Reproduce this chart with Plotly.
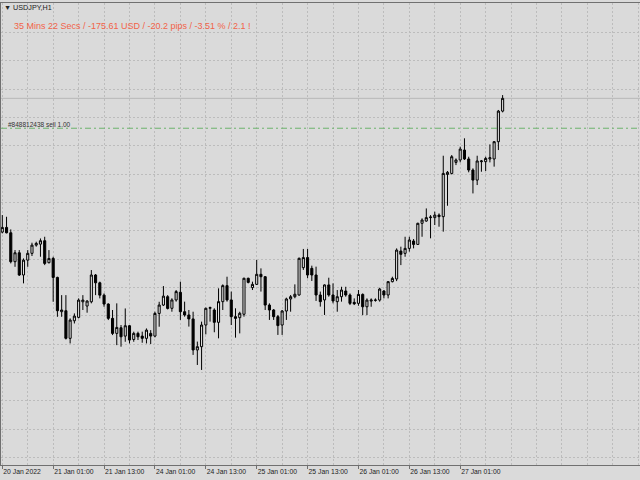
import plotly.graph_objects as go

# ---- data (USDJPY H1) ----
open_ = [114.390,114.423,114.385,114.181,114.244,114.087,114.192,114.240,114.298,114.305,
         114.329,114.174,114.204,114.070,113.828,113.835,113.640,113.764,113.788,113.898,
         113.868,113.898,114.087,114.032,113.945,113.882,113.781,113.675,113.715,113.656,
         113.729,113.632,113.675,113.656,113.640,113.675,113.656,113.816,113.875,113.934,
         113.852,113.911,113.965,113.828,113.805,113.777,113.558,113.581,113.734,113.852,
         113.840,113.753,113.899,114.012,113.911,113.793,113.786,113.810,114.064,113.998,
         114.021,114.092,114.075,113.875,113.840,113.793,113.734,113.833,113.918,113.934,
         113.946,114.139,114.210,114.134,114.087,113.946,113.911,114.017,113.946,113.899,
         113.934,113.974,113.946,113.894,113.887,113.950,113.863,113.903,113.908,113.910,
         113.974,113.946,114.040,114.059,114.256,114.240,114.275,114.327,114.303,114.452,
         114.468,114.492,114.492,114.510,114.499,114.797,114.804,114.882,114.899,114.969,
         114.906,114.828,114.757,114.887,114.887,114.906,114.906,115.028,115.244]
high = [114.510,114.498,114.409,114.263,114.263,114.204,114.263,114.315,114.322,114.345,
        114.357,114.263,114.216,114.075,113.945,113.945,113.781,113.816,113.922,113.945,
        113.910,114.122,114.094,114.040,113.957,113.887,113.840,113.887,113.734,113.851,
        113.734,113.687,113.687,113.687,113.710,113.698,113.828,113.898,114.009,113.945,
        113.923,113.981,114.040,113.899,113.840,113.828,113.617,113.758,113.857,113.864,
        113.852,113.993,114.021,114.075,113.970,113.852,113.828,114.068,114.068,114.040,
        114.193,114.134,114.080,113.887,113.847,113.805,113.840,113.927,113.946,114.021,
        114.210,114.271,114.271,114.153,114.146,113.970,114.021,114.068,114.028,113.981,
        114.004,114.004,113.957,113.922,113.981,113.957,113.922,113.922,113.922,113.997,
        113.981,114.044,114.075,114.275,114.287,114.357,114.357,114.341,114.456,114.487,
        114.557,114.510,114.534,114.522,114.929,114.821,114.934,114.910,114.993,115.052,
        114.922,114.840,114.929,114.899,114.922,115.009,115.033,115.252,115.357]
low = [114.381,114.381,114.169,114.145,114.080,114.028,114.145,114.221,114.287,114.216,
       114.157,114.169,113.898,113.792,113.792,113.632,113.604,113.745,113.781,113.840,
       113.821,113.887,113.945,113.922,113.863,113.769,113.663,113.592,113.581,113.616,
       113.604,113.616,113.628,113.609,113.604,113.600,113.647,113.722,113.868,113.844,
       113.828,113.899,113.770,113.793,113.723,113.523,113.452,113.417,113.668,113.758,
       113.683,113.640,113.840,113.899,113.734,113.645,113.675,113.793,114.028,113.981,
       114.017,113.970,113.840,113.770,113.770,113.664,113.664,113.770,113.828,113.923,
       113.941,114.123,114.064,114.045,113.904,113.864,113.805,113.934,113.887,113.828,
       113.899,113.934,113.875,113.875,113.870,113.804,113.804,113.863,113.899,113.899,
       113.922,113.922,114.035,114.044,114.157,114.216,114.252,114.275,114.299,114.357,
       114.463,114.346,114.440,114.428,114.393,114.576,114.797,114.863,114.882,114.899,
       114.812,114.663,114.722,114.816,114.821,114.882,114.852,114.969,115.235]
close = [114.423,114.385,114.181,114.244,114.087,114.192,114.240,114.298,114.310,114.329,
         114.169,114.204,114.070,113.835,113.840,113.640,113.769,113.797,113.910,113.910,
         113.903,114.087,114.032,113.945,113.882,113.781,113.675,113.717,113.651,113.729,
         113.628,113.675,113.651,113.640,113.698,113.656,113.816,113.875,113.938,113.851,
         113.911,113.970,113.828,113.805,113.777,113.558,113.581,113.734,113.852,113.857,
         113.753,113.899,114.012,113.911,113.793,113.781,113.817,114.064,114.035,114.021,
         114.092,114.075,113.875,113.840,113.793,113.730,113.833,113.918,113.934,113.951,
         114.205,114.210,114.087,114.087,113.946,113.899,114.017,113.946,113.904,113.934,
         113.981,113.946,113.887,113.884,113.950,113.863,113.910,113.910,113.910,113.988,
         113.946,114.040,114.063,114.263,114.233,114.275,114.334,114.303,114.452,114.475,
         114.492,114.496,114.510,114.499,114.804,114.812,114.922,114.899,114.976,114.906,
         114.828,114.757,114.892,114.892,114.910,114.915,115.028,115.244,115.334]

tick_labels = ["20 Jan 2022", "21 Jan 01:00", "21 Jan 13:00", "24 Jan 01:00", "24 Jan 13:00",
               "25 Jan 01:00", "25 Jan 13:00", "26 Jan 01:00", "26 Jan 13:00", "27 Jan 01:00"]
tick_bars = [0, 12, 24, 36, 48, 60, 72, 84, 96, 108]

sell_price = 115.123
bid_price = close[-1]
symbol_text = "▼ USDJPY,H1"
info_text = "35 Mins 22 Secs / -175.61 USD / -20.2 pips / -3.51 % / 2.1 !"
order_text = "#848812438 sell 1.00"

BG = "#dadada"
GRID = "#bcbcbc"
FRAME = "#707070"

bars = list(range(len(open_)))
minor_grid = [v for v in range(6, 151, 6) if v not in tick_bars]

fig = go.Figure()
fig.add_trace(go.Candlestick(
    x=bars, open=open_, high=high, low=low, close=close,
    increasing=dict(line=dict(color="#000000", width=1), fillcolor="#e4e4e4"),
    decreasing=dict(line=dict(color="#000000", width=1), fillcolor="#000000"),
    whiskerwidth=0, hoverinfo="skip", showlegend=False,
))

# bid line
fig.add_hline(y=bid_price, line=dict(color="#b8b8b8", width=1), layer="below")
# order line
fig.add_hline(y=sell_price, line=dict(color="#6db36d", width=1, dash="6px,3px,2px,3px"))

fig.add_annotation(text=order_text, xref="paper", x=0.008, y=sell_price, yref="y",
                   xanchor="left", yanchor="bottom", yshift=-2, showarrow=False,
                   font=dict(family="Liberation Sans", size=6.5, color="#333333"))
fig.add_annotation(text=info_text, xref="paper", yref="paper", x=0.017, y=0.950,
                   xanchor="left", yanchor="middle", showarrow=False,
                   font=dict(family="Liberation Sans", size=9, color="#f26349"))
fig.add_annotation(text=symbol_text, xref="paper", yref="paper", x=0.002, y=0.9913,
                   xanchor="left", yanchor="middle", showarrow=False,
                   font=dict(family="Liberation Sans", size=7.2, color="#222222"))

fig.update_layout(
    width=640, height=480,
    margin=dict(l=1, r=0, t=3, b=15),
    paper_bgcolor=BG, plot_bgcolor=BG,
    showlegend=False,
    xaxis=dict(
        range=[-0.307, 150.40], rangeslider=dict(visible=False),
        tickmode="array", tickvals=tick_bars, ticktext=tick_labels,
        ticks="outside", ticklen=3, tickcolor=FRAME, tickwidth=1,
        ticklabelposition="outside right",
        tickfont=dict(family="Liberation Sans", size=6.8, color="#222222"),
        showgrid=True, gridcolor=GRID, griddash="2px,2px", gridwidth=1,
        minor=dict(tickvals=minor_grid, showgrid=True, gridcolor=GRID,
                   griddash="2px,2px", gridwidth=1, ticks=""),
        showline=True, linecolor=FRAME, linewidth=1, mirror=True,
        zeroline=False, fixedrange=True,
    ),
    yaxis=dict(
        range=[112.746, 116.007], tickmode="linear", tick0=113.0, dtick=0.2,
        showticklabels=False, ticks="",
        showgrid=True, gridcolor=GRID, griddash="2px,2px", gridwidth=1,
        showline=True, linecolor=FRAME, linewidth=1, zeroline=False,
        fixedrange=True,
    ),
)

fig.write_html(
    "out.html",
    config={"displayModeBar": False},
    post_script="document.body.style.margin='0';document.body.style.overflow='hidden';",
)
